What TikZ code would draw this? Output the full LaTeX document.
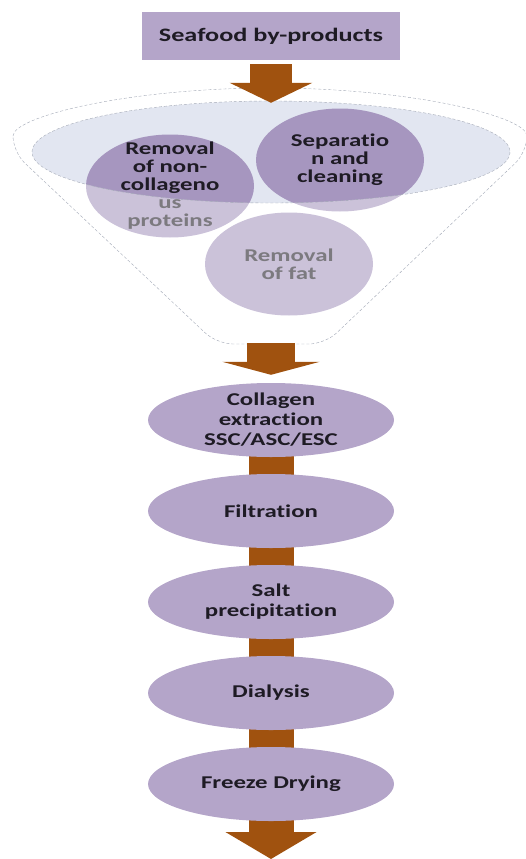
\documentclass[tikz,border=0pt]{standalone}
\usepackage{fontspec}
\setmainfont{Carlito}[FakeStretch=1.38,Ligatures=NoCommon]
\usetikzlibrary{shapes.geometric,arrows.meta,backgrounds}
\definecolor{lilac}{HTML}{B4A5C9}
\definecolor{deeplilac}{HTML}{A696BF}
\definecolor{mist}{HTML}{E2E6F1}
\definecolor{rust}{HTML}{A0520F}
\definecolor{ink}{HTML}{1E1B24}
\definecolor{rim}{HTML}{A3A9B6}
\tikzset{
	stage/.style={ellipse,fill=lilac,minimum width=246pt,minimum height=74pt,inner xsep=0pt,inner ysep=-6pt,align=center,text=ink,font=\bfseries\fontsize{18}{20}\selectfont},
	blob/.style={ellipse,fill=deeplilac,minimum width=168pt,minimum height=103pt,inner xsep=0pt,inner ysep=-10pt,align=center,text=ink,font=\bfseries\fontsize{18}{18}\selectfont},
	bar/.style={rust,line width=45pt},
	flow/.style n args={3}{rust,line width=#1,-{Triangle[width=#2,length=#3]}},
	funnel/.style={rim,densely dashed,thin},
}
\begin{document}
\begin{tikzpicture}[x=1pt,y=-1pt]
	\useasboundingbox (0,0) rectangle (525,859);
	\node[fill=lilac,minimum width=258pt,minimum height=48pt,text=ink,font=\bfseries\fontsize{19}{20}\selectfont] (sea) at (271,36) {Seafood by-products};
		\node[ellipse,fill=mist,minimum width=478pt,minimum height=102pt] (basin) at (271,152) {};
		\node[blob] (nonc) at (170,186) {Removal\\of non-\\collageno\\us\\proteins};
		\node[blob] (sep) at (340,160) {Separatio\\n and\\cleaning};
		\node[blob] (fat) at (289,264) {Removal\\of fat};
			\fill[white,fill opacity=.42,even odd rule] (5,95) rectangle (525,345) (basin.center) ellipse [x radius=239,y radius=51];
			\draw[funnel] (basin.center) ellipse [x radius=239,y radius=51];
			\draw[funnel,rounded corners=16pt] (13,152) arc[start angle=180,end angle=360,x radius=257,y radius=64] -- (325,344) -- (217,344) -- cycle;
	\node[stage] (ext) at (271,420) {Collagen\\extraction\\SSC/ASC/ESC};
	\node[stage] (fil) at (271,511) {Filtration};
	\node[stage] (salt) at (271,602) {Salt\\precipitation};
	\node[stage] (dia) at (271,693) {Dialysis};
	\node[stage] (fd) at (271,784) {Freeze Drying};
		\coordinate (spout) at (271,343);
		\coordinate (outlet) at (271,859);
	\begin{scope}[on background layer]
		\draw[bar] (ext.center) -- (fil.center);
		\draw[bar] (fil.center) -- (salt.center);
		\draw[bar] (salt.center) -- (dia.center);
		\draw[bar] (dia.center) -- (fd.center);
		\draw[flow={45pt}{90pt}{27pt}] (fd.center) -- (outlet);
	\end{scope}
	\draw[flow={42pt}{82pt}{20pt}] ([yshift=-4pt]sea.south) -- ([yshift=-2pt]basin.north);
	\draw[flow={48pt}{97pt}{13pt}] (spout) -- ([yshift=8pt]ext.north);
\end{tikzpicture}
\end{document}
